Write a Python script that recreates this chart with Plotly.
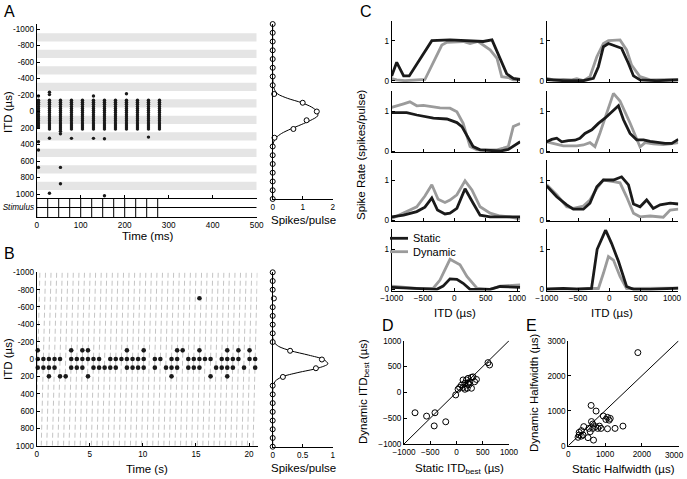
import plotly.graph_objects as go

W, H = 687, 479
FONT = "Liberation Sans, Arial, Helvetica, sans-serif"
BLACK = "#1a1a1a"
GRAY = "#9b9b9b"

# ---------------- Data ----------------
ITD_GRID = [-1000, -900, -800, -700, -600, -500, -400, -300, -200, -100, 0,
            100, 200, 300, 400, 500, 600, 700, 800, 900, 1000]
ITD_TICKS = [-1000, -800, -600, -400, -200, 0, 200, 400, 600, 800, 1000]
ITD_TICKTEXT = ["-1000", "-800", "-600", "-400", "-200", "0", "200", "400", "600", "800", "1000"]

# Panel A (static ITD, raster + tuning)
A_pulse_times = [0, 25, 50, 75, 100, 125, 150, 175, 200, 225, 250, 275]
A_spike_cols = [4, 29, 54, 79, 104, 129, 154, 179, 204, 229, 254, 279]
A_band_centers = [-900, -700, -500, -300, -100, 100, 300, 500, 700, 900]
A_counts_m100 = [4, 4, 4, 4, 4, 4, 4, 4, 4, 4, 4, 4]
A_counts_0 = [4, 4, 4, 4, 4, 4, 4, 4, 4, 4, 4, 4]
A_counts_100 = [4, 4, 4, 4, 4, 4, 4, 4, 4, 4, 4, 4]
A_counts_200 = [2, 3, 4, 3, 3, 3, 3, 3, 3, 3, 3, 3]
A_extra_t = [4, 4, 4, 4, 29, 29, 29, 29, 54, 54, 54, 79, 129, 129, 154, 154, 204, 254]
A_extra_itd = [-188, 366, 467, 677, -235, -205, 323, 990, 270, 677, 875, 325, -188, 325, 330, 1020, -215, 310]
A_tuning = [0, 0, 0, 0, 0, 0, 0, 0, 0.05, 1.0, 1.47, 1.13, 0.69, 0.06, 0, 0, 0, 0, 0, 0, 0]
A_fit_itd = [-1000, -400, -300, -250, -200, -150, -100, -50, 0, 50, 100, 150, 200, 250, 300, 350, 400, 1000]
A_fit_val = [0, 0, 0.02, 0.06, 0.17, 0.5, 0.97, 1.3, 1.48, 1.5, 1.27, 0.95, 0.6, 0.3, 0.11, 0.03, 0, 0]

# Panel B (dynamic ITD, raster + tuning)
B_slot_times = [0.10, 0.63, 1.15, 1.68, 2.20, 2.73, 3.25, 3.78, 4.30, 4.83,
                5.35, 5.88, 6.40, 6.93, 7.45, 7.98, 8.50, 9.03, 9.55, 10.08,
                10.60, 11.13, 11.65, 12.18, 12.70, 13.23, 13.75, 14.28, 14.80, 15.33,
                15.85, 16.38, 16.90, 17.43, 17.95, 18.48, 19.00, 19.53, 20.05, 20.58]
B_slots_m700 = [29]
B_slots_m100 = [0, 6, 8, 9, 16, 19, 25, 26, 29, 34, 36, 38]
B_slots_0 = [0, 1, 2, 3, 4, 6, 7, 8, 9, 10, 11, 13, 14, 15, 16, 17, 18, 19,
             21, 22, 24, 25, 27, 28, 29, 30, 31, 33, 34, 35, 36, 38, 39]
B_slots_100 = [0, 1, 2, 3, 6, 7, 8, 10, 11, 12, 13, 14, 16, 17, 18, 19, 21, 23, 24, 25,
               27, 28, 29, 32, 33, 34, 35, 37, 39]
B_slots_200 = [2, 4, 5, 9, 24, 31, 34]
B_tuning = [0, 0, 0, 0.02, 0, 0, 0, 0, 0, 0.29, 0.82, 0.72, 0.17, 0, 0, 0, 0, 0, 0, 0, 0]
B_fit_itd = [-1000, -250, -200, -150, -100, -50, 0, 50, 100, 150, 200, 250, 300, 350, 1000]
B_fit_val = [0, 0, 0.02, 0.1, 0.3, 0.6, 0.85, 0.92, 0.75, 0.42, 0.15, 0.04, 0.01, 0, 0]

# Panel C (static vs dynamic tuning curves, 4 rows x 2 cols)
C1L_s_x = [-1000, -920, -810, -720, -360, -70, 460, 600, 835, 940, 1050]
C1L_s_y = [0.12, 0.46, 0.12, 0.12, 1.0, 1.02, 0.98, 1.02, 0.17, 0.06, 0.03]
C1L_d_x = [-1000, -920, -790, -600, -470, -200, -120, 140, 250, 380, 570, 680, 755, 860, 940, 1050]
C1L_d_y = [0.05, 0.02, 0, 0.02, 0.03, 0.89, 0.96, 0.98, 0.93, 0.98, 0.77, 0.56, 0.1, 0.08, 0.02, 0.02]
C2L_s_x = [-1000, -760, -600, -335, -120, 40, 120, 300, 410, 730, 860, 1050]
C2L_s_y = [0.96, 0.96, 0.9, 0.82, 0.8, 0.71, 0.61, 0.11, 0.03, 0, 0.04, 0.23]
C2L_d_x = [-1000, -920, -810, -710, -600, -495, -390, -230, -70, 40, 140, 250, 360, 680, 780, 860, 940, 1050]
C2L_d_y = [1.09, 1.12, 1.18, 1.23, 1.13, 1.14, 1.11, 1.08, 1.07, 0.98, 0.69, 0.11, 0.03, 0.03, 0.07, 0.11, 0.61, 0.69]
C3L_s_x = [-1000, -810, -600, -470, -360, -270, -150, -70, 40, 170, 300, 410, 570, 890, 1050]
C3L_s_y = [0.08, 0.12, 0.21, 0.32, 0.55, 0.25, 0.15, 0.17, 0.29, 0.78, 0.42, 0.12, 0.08, 0.08, 0.08]
C3L_d_x = [-1000, -810, -600, -470, -360, -260, -150, -70, 40, 170, 280, 410, 570, 730, 890, 1050]
C3L_d_y = [0.04, 0.17, 0.33, 0.6, 0.88, 0.52, 0.44, 0.5, 0.63, 0.98, 0.75, 0.33, 0.17, 0.1, 0.08, 0.02]
C4L_s_x = [-1000, -600, -280, -180, -70, 40, 140, 250, 570, 730, 1050]
C4L_s_y = [0.05, 0.03, 0, 0.08, 0.26, 0.25, 0.15, 0, 0, 0.07, 0.05]
C4L_d_x = [-1000, -810, -600, -340, -230, -70, 90, 200, 360, 570, 730, 1050]
C4L_d_y = [0.08, 0.05, 0.02, 0.02, 0.23, 0.75, 0.61, 0.32, 0.03, 0, 0.08, 0.11]

C1R_s_x = [-1000, -730, -415, -255, -175, -95, -15, 90, 195, 305, 385, 490, 755, 1100]
C1R_s_y = [0.03, 0, 0, 0.06, 0.35, 0.85, 0.93, 0.87, 0.81, 0.43, 0.12, 0.02, 0, 0.02]
C1R_d_x = [-1000, -895, -735, -600, -520, -415, -310, -200, -95, -15, 170, 275, 355, 490, 650, 860, 1100]
C1R_d_y = [0.06, 0.02, 0.03, 0.02, 0.05, 0, 0.1, 0.6, 0.93, 1.0, 1.02, 0.77, 0.39, 0.1, 0.02, 0.02, 0.03]
C2R_s_x = [-1000, -920, -840, -760, -655, -550, -470, -390, -280, -175, -70, 10, 145, 225, 330, 435, 545, 650, 755, 890, 995, 1100]
C2R_s_y = [0.23, 0.29, 0.32, 0.23, 0.26, 0.27, 0.32, 0.44, 0.53, 0.69, 0.82, 0.94, 1.13, 0.78, 0.44, 0.28, 0.28, 0.24, 0.21, 0.19, 0.19, 0.29]
C2R_d_x = [-1000, -895, -735, -520, -415, -310, -230, -150, -45, 65, 170, 330, 490, 570, 700, 860, 970, 1100]
C2R_d_y = [0.23, 0.19, 0.13, 0.13, 0.15, 0.21, 0.11, 0.45, 0.95, 1.44, 1.25, 0.7, 0.1, 0.21, 0.18, 0.16, 0.18, 0.21]
C3R_s_x = [-1000, -840, -680, -575, -415, -310, -200, -95, 65, 115, 195, 305, 385, 490, 595, 700, 810, 970, 1100]
C3R_s_y = [0.85, 0.58, 0.38, 0.27, 0.27, 0.42, 0.83, 1.0, 1.0, 1.03, 1.08, 0.88, 0.4, 0.33, 0.5, 0.29, 0.38, 0.42, 0.4]
C3R_d_x = [-1000, -840, -680, -575, -415, -310, -200, -95, 65, 170, 275, 385, 490, 650, 860, 970, 1100]
C3R_d_y = [0.88, 0.63, 0.33, 0.29, 0.35, 0.5, 0.79, 1.0, 0.96, 0.93, 0.58, 0.17, 0.08, 0.1, 0.07, 0.25, 0.27]
C4R_s_x = [-1000, -735, -520, -285, -195, -60, 35, 145, 275, 385, 650, 1100]
C4R_s_y = [0, 0.02, 0, 0.02, 1.0, 1.48, 1.15, 0.7, 0.07, 0, 0, 0.03]
C4R_d_x = [-1000, -735, -360, -175, -95, -15, 65, 170, 275, 435, 1100]
C4R_d_y = [0.02, 0.02, 0.02, 0.02, 0.4, 0.82, 0.73, 0.32, 0.02, 0.02, 0.03]

# Panel D (best ITD)
D_static = [-790, -570, -410, -425, -205, -15, 30, 60, 125, 160, 190, 220, 255, 285, 315, 345, 205, 285, 380, 160, 95, 220, 125, 600, 630, 240]
D_dynamic = [-395, -460, -395, -650, -570, -50, 60, 95, 95, 175, 240, 270, 205, 290, 300, 205, 80, 80, 250, 60, 140, 175, 240, 575, 530, 150]

# Panel E (halfwidth)
E_static = [1890, 620, 755, 950, 1065, 1140, 1020, 1110, 630, 665, 845, 740, 665, 800, 890, 1065, 1270, 1485, 420, 355, 295, 295, 400, 265, 535, 685, 355, 595, 560]
E_dynamic = [2660, 1150, 990, 850, 810, 780, 750, 730, 690, 620, 560, 545, 495, 495, 495, 485, 495, 560, 545, 430, 380, 305, 305, 240, 230, 160, 275, 400, 495]
E_ticks = [0, 1000, 2000, 3000]


# ---------------- Helpers ----------------
def dx(a, b):
    return [a / W, b / W]


def dy(top, bottom):
    return [1 - bottom / H, 1 - top / H]


def ax(**kw):
    d = dict(showline=True, linecolor="black", linewidth=1, ticks="inside", ticklen=3,
             tickcolor="black", tickwidth=1, showgrid=False, zeroline=False, automargin=False,
             tickfont=dict(size=8.2, color="black", family=FONT), fixedrange=True)
    d.update(kw)
    return d


fig = go.Figure()
layout = {}
shapes = []
annotations = []

# ---------- Panel A raster ----------
layout["xaxis"] = ax(domain=dx(36.7, 256.7), range=[0, 500], anchor="y",
                     tickvals=[100, 200, 300, 400, 500], showticklabels=False)
layout["yaxis"] = ax(domain=dy(24, 198), range=[1048, -1061], anchor="x",
                     tickvals=ITD_TICKS, ticktext=ITD_TICKTEXT)
for c in A_band_centers:
    shapes.append(dict(type="rect", xref="x", yref="y", x0=0, x1=500, y0=c - 50, y1=c + 50,
                       fillcolor="#e5e5e5", line=dict(width=0), layer="below"))
ax_t, ax_y = [], []
for j, t in enumerate(A_spike_cols):
    for i in range(A_counts_m100[j]):
        ax_t.append(t); ax_y.append(-62.5 - 25 * i)
    for i in range(A_counts_0[j]):
        ax_t.append(t); ax_y.append(-37.5 + 25 * i)
    for i in range(A_counts_100[j]):
        ax_t.append(t); ax_y.append(62.5 + 25 * i)
    for i in range(A_counts_200[j]):
        ax_t.append(t); ax_y.append(162.5 + 25 * i)
ax_t += A_extra_t
ax_y += A_extra_itd
fig.add_trace(go.Scatter(x=ax_t, y=ax_y, mode="markers", xaxis="x", yaxis="y",
                         marker=dict(size=3.4, color=BLACK), showlegend=False, hoverinfo="skip",
                         cliponaxis=False))

# ---------- Panel A stimulus strip ----------
layout["xaxis2"] = ax(domain=dx(36.7, 256.7), range=[0, 500], anchor="y2",
                      tickvals=[0, 100, 200, 300, 400, 500], ticks="")
layout["yaxis2"] = ax(domain=dy(198, 217), range=[0, 1], anchor="x2",
                      tickvals=[0.5], ticktext=["<i>Stimulus</i>"], ticks="")
shapes.append(dict(type="line", xref="x2", yref="y2", x0=0, x1=500, y0=0.5, y1=0.5,
                   line=dict(color="black", width=1)))
pt_x, pt_y = [], []
for t in A_pulse_times:
    pt_x += [t, t, None]
    pt_y += [0, 1, None]
fig.add_trace(go.Scatter(x=pt_x, y=pt_y, mode="lines", xaxis="x2", yaxis="y2",
                         line=dict(color="black", width=1), showlegend=False, hoverinfo="skip"))

# ---------- Panel A tuning ----------
layout["xaxis3"] = ax(domain=dx(272.7, 333.3), range=[0, 2.02], anchor="y3", tickvals=[0, 1, 2])
layout["yaxis3"] = ax(domain=dy(23.6, 199.4), range=[1005, -1005], anchor="x3",
                      showticklabels=False, ticks="")
fig.add_trace(go.Scatter(x=A_fit_val, y=A_fit_itd, mode="lines", xaxis="x3", yaxis="y3",
                         line=dict(color="black", width=1, shape="spline", smoothing=0.8),
                         showlegend=False, hoverinfo="skip", cliponaxis=False))
fig.add_trace(go.Scatter(x=A_tuning, y=ITD_GRID, mode="markers", xaxis="x3", yaxis="y3",
                         marker=dict(size=5, color="white", line=dict(color="black", width=1)),
                         showlegend=False, hoverinfo="skip", cliponaxis=False))

# ---------- Panel B raster ----------
layout["xaxis4"] = ax(domain=dx(36.7, 257.5), range=[0, 20.8], anchor="y4",
                      tickvals=[0, 5, 10, 15, 20])
layout["yaxis4"] = ax(domain=dy(272.3, 445.7), range=[1000, -1000], anchor="x4",
                      tickvals=ITD_TICKS, ticktext=ITD_TICKTEXT)
sw_x, sw_y = [], []
for t in B_slot_times:
    sw_x += [t - 0.2, t + 0.2, None]
    sw_y += [1000, -1000, None]
fig.add_trace(go.Scatter(x=sw_x, y=sw_y, mode="lines", xaxis="x4", yaxis="y4",
                         line=dict(color="#c4c4c4", width=1, dash="5px,3px"),
                         showlegend=False, hoverinfo="skip"))
bx, by = [], []
for itd, slots in [(-700, B_slots_m700), (-100, B_slots_m100), (0, B_slots_0),
                   (100, B_slots_100), (200, B_slots_200)]:
    for k in slots:
        bx.append(B_slot_times[k]); by.append(itd)
fig.add_trace(go.Scatter(x=bx, y=by, mode="markers", xaxis="x4", yaxis="y4",
                         marker=dict(size=4.6, color=BLACK), showlegend=False, hoverinfo="skip",
                         cliponaxis=False))

# ---------- Panel B tuning ----------
layout["xaxis5"] = ax(domain=dx(272.7, 333.3), range=[0, 1.01], anchor="y5", tickvals=[0, 0.5, 1])
layout["yaxis5"] = ax(domain=dy(272.3, 446.7), range=[1000, -1000], anchor="x5",
                      showticklabels=False, ticks="")
fig.add_trace(go.Scatter(x=B_fit_val, y=B_fit_itd, mode="lines", xaxis="x5", yaxis="y5",
                         line=dict(color="black", width=1, shape="spline", smoothing=0.8),
                         showlegend=False, hoverinfo="skip", cliponaxis=False))
fig.add_trace(go.Scatter(x=B_tuning, y=ITD_GRID, mode="markers", xaxis="x5", yaxis="y5",
                         marker=dict(size=5, color="white", line=dict(color="black", width=1)),
                         showlegend=False, hoverinfo="skip", cliponaxis=False))

# ---------- Panel C ----------
C_rows_zero = [80.7, 151.0, 220.0, 289.3]
C_left = [(C1L_s_x, C1L_s_y, C1L_d_x, C1L_d_y), (C2L_s_x, C2L_s_y, C2L_d_x, C2L_d_y),
          (C3L_s_x, C3L_s_y, C3L_d_x, C3L_d_y), (C4L_s_x, C4L_s_y, C4L_d_x, C4L_d_y)]
C_right = [(C1R_s_x, C1R_s_y, C1R_d_x, C1R_d_y), (C2R_s_x, C2R_s_y, C2R_d_x, C2R_d_y),
           (C3R_s_x, C3R_s_y, C3R_d_x, C3R_d_y), (C4R_s_x, C4R_s_y, C4R_d_x, C4R_d_y)]
n = 6
for col, (curves, xd, xr) in enumerate([(C_left, (391.7, 520.2), [-1000, 1050]),
                                         (C_right, (546.7, 678.3), [-1000, 1100])]):
    for r in range(4):
        z = C_rows_zero[r]
        xa, ya = "xaxis%d" % n, "yaxis%d" % n
        xs, ys = "x%d" % n, "y%d" % n
        layout[xa] = ax(domain=dx(*xd), range=xr, anchor=ys,
                        tickvals=[-1000, -500, 0, 500, 1000], showticklabels=(r == 3))
        layout[ya] = ax(domain=dy(z - 60, z + 1.2), range=[-0.03, 1.5], anchor=xs,
                        tickvals=[0, 1])
        sx, sy, dxx, dyy = curves[r]
        fig.add_trace(go.Scatter(x=dxx, y=dyy, mode="lines", xaxis=xs, yaxis=ys,
                                 line=dict(color=GRAY, width=2.8), showlegend=False,
                                 hoverinfo="skip"))
        fig.add_trace(go.Scatter(x=sx, y=sy, mode="lines", xaxis=xs, yaxis=ys,
                                 line=dict(color=BLACK, width=2.8), showlegend=False,
                                 hoverinfo="skip"))
        n += 1

# legend for C
shapes.append(dict(type="line", xref="paper", yref="paper", x0=390 / W, x1=408 / W,
                   y0=1 - 238.3 / H, y1=1 - 238.3 / H, line=dict(color=BLACK, width=2.8)))
shapes.append(dict(type="line", xref="paper", yref="paper", x0=390 / W, x1=408 / W,
                   y0=1 - 251.7 / H, y1=1 - 251.7 / H, line=dict(color=GRAY, width=2.8)))

# ---------- Panel D ----------
layout["xaxis14"] = ax(domain=dx(404, 509), range=[-1000, 1000], anchor="y14",
                       tickvals=[-1000, -500, 0, 500, 1000])
layout["yaxis14"] = ax(domain=dy(340.7, 444), range=[-1000, 1000], anchor="x14",
                       tickvals=[-1000, -500, 0, 500, 1000])
shapes.append(dict(type="line", xref="x14", yref="y14", x0=-1000, y0=-1000, x1=1000, y1=1000,
                   line=dict(color="black", width=1)))
fig.add_trace(go.Scatter(x=D_static, y=D_dynamic, mode="markers", xaxis="x14", yaxis="y14",
                         marker=dict(size=6, color="rgba(0,0,0,0)", line=dict(color="black", width=1)),
                         showlegend=False, hoverinfo="skip", cliponaxis=False))

# ---------- Panel E ----------
layout["xaxis15"] = ax(domain=dx(568.3, 678.7), range=[0, 3000], anchor="y15",
                       tickvals=E_ticks, ticktext=[str(v) for v in E_ticks[:-1]] + [""])
layout["yaxis15"] = ax(domain=dy(340.7, 445.7), range=[0, 3000], anchor="x15",
                       tickvals=E_ticks)
shapes.append(dict(type="line", xref="x15", yref="y15", x0=0, y0=0, x1=3000, y1=3000,
                   line=dict(color="black", width=1)))
fig.add_trace(go.Scatter(x=E_static, y=E_dynamic, mode="markers", xaxis="x15", yaxis="y15",
                         marker=dict(size=6, color="rgba(0,0,0,0)", line=dict(color="black", width=1)),
                         showlegend=False, hoverinfo="skip", cliponaxis=False))


# ---------- Text ----------
def txt(x, y, s, size=11.5, angle=0, xanchor="center", yanchor="middle"):
    annotations.append(dict(x=x / W, y=1 - y / H, xref="paper", yref="paper", text=s,
                            showarrow=False, textangle=angle, xanchor=xanchor, yanchor=yanchor,
                            font=dict(size=size, color="black", family=FONT)))


txt(2, 11, "A", size=16, xanchor="left")
txt(2, 253, "B", size=16, xanchor="left")
txt(358, 11, "C", size=16, xanchor="left")
txt(380, 325, "D", size=16, xanchor="left")
txt(524, 325, "E", size=16, xanchor="left")

txt(8, 112, "ITD (µs)", angle=-90)
txt(147, 236, "Time (ms)")
txt(303, 220, "Spikes/pulse")
txt(8, 359, "ITD (µs)", angle=-90)
txt(147, 469, "Time (s)")
txt(303, 468, "Spikes/pulse")
txt(361, 155, "Spike Rate (spikes/pulse)", angle=-90)
txt(455, 313, "ITD (µs)")
txt(612, 313, "ITD (µs)")
txt(459, 469, "Static ITD<sub>best</sub> (µs)")
txt(364, 392, "Dynamic ITD<sub>best</sub> (µs)", angle=-90)
txt(623, 469, "Static Halfwidth (µs)")
txt(534, 393, "Dynamic Halfwidth (µs)", angle=-90)
txt(411, 238.3, "Static", size=11, xanchor="left")
txt(411, 251.7, "Dynamic", size=11, xanchor="left")
txt(686, 455, str(E_ticks[-1]), size=8.2, xanchor="right")

layout.update(dict(width=W, height=H, autosize=False,
                   margin=dict(l=0, r=0, t=0, b=0, pad=0),
                   paper_bgcolor="white", plot_bgcolor="white",
                   font=dict(family=FONT, color="black"),
                   shapes=shapes, annotations=annotations, showlegend=False))
fig.update_layout(**layout)
fig.write_html("out.html", config={"displayModeBar": False},
               post_script="document.body.style.margin='0px';document.body.style.overflow='hidden';")
